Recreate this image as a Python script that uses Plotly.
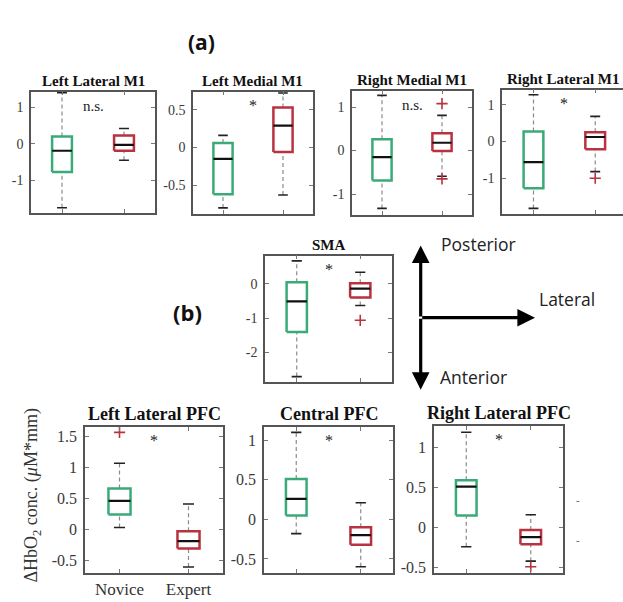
import plotly.graph_objects as go

W, H = 623, 602

# ---------------- data ----------------
regions = ["Left Lateral M1", "Left Medial M1", "Right Medial M1", "Right Lateral M1",
           "SMA", "Left Lateral PFC", "Central PFC", "Right Lateral PFC"]
group_labels = ["Novice", "Expert"]

novice_low  = [-1.75, -0.80, -1.33, -1.82, -2.70, 0.03, -0.18, -0.24]
novice_q1   = [-0.77, -0.62, -0.69, -1.27, -1.40, 0.24, 0.05, 0.15]
novice_med  = [-0.19, -0.15, -0.15, -0.56, -0.51, 0.46, 0.26, 0.51]
novice_q3   = [0.20, 0.06, 0.26, 0.27, 0.05, 0.66, 0.51, 0.59]
novice_high = [1.40, 0.16, 1.27, 1.27, 0.67, 1.07, 1.10, 1.19]
novice_out  = [[], [], [], [], [], [1.57], [], []]

expert_low  = [-0.45, -0.63, -0.59, -0.82, -0.63, -0.61, -0.60, -0.42]
expert_q1   = [-0.19, -0.06, -0.01, -0.21, -0.40, -0.31, -0.32, -0.21]
expert_med  = [-0.03, 0.29, 0.18, 0.12, -0.14, -0.19, -0.20, -0.12]
expert_q3   = [0.23, 0.53, 0.40, 0.25, 0.02, -0.03, -0.10, -0.03]
expert_high = [0.42, 0.72, 0.81, 0.68, 0.34, 0.41, 0.21, 0.16]
expert_out  = [[], [], [1.08, -0.65], [-1.0], [-1.06], [], [], [-0.49]]

sig_marks = ["n.s.", "*", "n.s.", "*", "*", "*", "*", "*"]

y_ticks = [[-1, 0, 1], [-0.5, 0, 0.5], [-1, 0, 1], [-2, -1, 0, 1], [-2, -1, 0],
           [-0.5, 0, 0.5, 1, 1.5], [-0.5, 0, 0.5, 1], [-0.5, 0, 0.5, 1]]
y_tick_text = [["-1", "0", "1"], ["-0.5", "0", "0.5"], ["-1", "0", "1"], ["-2", "-1", "0", "1"],
               ["-2", "-1", "0"], ["-0.5", "0", "0.5", "1", "1.5"], ["-0.5", "0", "0.5", "1"],
               ["-0.5", "0", "0.5", "1"]]
y_ranges = [[-1.89, 1.43], [-0.88, 0.74], [-1.48, 1.38], [-1.97, 1.41], [-2.86, 0.82],
            [-0.71, 1.66], [-0.68, 1.17], [-0.57, 1.27]]

# ---------------- layout geometry (pixels: left, top, right, bottom) ----------------
frames = [(31, 92, 155, 214), (193, 92, 313, 215), (352, 91, 472, 216), (502, 90, 623, 215),
          (265, 257, 392, 384), (85, 429, 223, 576), (264, 429, 393, 576), (434, 428, 563, 576)]
x_ranges = [[0.5, 2.5], [0.5, 2.5], [0.5, 2.5], [0.49, 2.45],
            [0.5, 2.5], [0.5, 2.5], [0.5, 2.5], [0.5, 2.5]]

GREEN = "#3aaa78"
RED = "#b8323f"
FRAME = "#555555"
SERIF = "Liberation Serif"
SANS = "Open Sans"

def px(x):
    return x / W

def py(y):
    return 1 - y / H

fig = go.Figure()
BW = 0.16   # half box width
CW = 0.08   # half cap width

for i in range(len(regions)):
    n = i + 1
    xa = "x" if n == 1 else f"x{n}"
    ya = "y" if n == 1 else f"y{n}"
    groups = [
        (1, novice_low[i], novice_q1[i], novice_med[i], novice_q3[i], novice_high[i], novice_out[i], GREEN),
        (2, expert_low[i], expert_q1[i], expert_med[i], expert_q3[i], expert_high[i], expert_out[i], RED),
    ]
    for g, lo, q1, md, q3, hi, outs, col in groups:
        fig.add_trace(go.Scatter(x=[g, g, None, g, g], y=[lo, q1, None, q3, hi], mode="lines",
                                 line=dict(color="#8a8a8a", width=1.2, dash="4px,3px"),
                                 xaxis=xa, yaxis=ya, showlegend=False, hoverinfo="skip"))
        fig.add_trace(go.Scatter(x=[g - CW, g + CW, None, g - CW, g + CW], y=[lo, lo, None, hi, hi],
                                 mode="lines", line=dict(color="#222222", width=1.6),
                                 xaxis=xa, yaxis=ya, showlegend=False, hoverinfo="skip"))
        fig.add_trace(go.Scatter(x=[g - BW, g + BW, g + BW, g - BW, g - BW], y=[q1, q1, q3, q3, q1],
                                 mode="lines", line=dict(color=col, width=2.5),
                                 xaxis=xa, yaxis=ya, showlegend=False, hoverinfo="skip"))
        fig.add_trace(go.Scatter(x=[g - BW, g + BW], y=[md, md], mode="lines",
                                 line=dict(color="#111111", width=2.2),
                                 xaxis=xa, yaxis=ya, showlegend=False, hoverinfo="skip"))
        if outs:
            fig.add_trace(go.Scatter(x=[g] * len(outs), y=outs, mode="markers",
                                     marker=dict(symbol="cross-thin", size=8, color=RED,
                                                 line=dict(color=RED, width=1.6)),
                                     xaxis=xa, yaxis=ya, showlegend=False, hoverinfo="skip"))

layout = dict(width=W, height=H, margin=dict(l=0, r=0, t=0, b=0),
              paper_bgcolor="white", plot_bgcolor="white", showlegend=False)

annotations = []
for i in range(len(regions)):
    n = i + 1
    l, t, r, b = frames[i]
    bottom = i >= 5
    tick_size = 16 if bottom else 14
    xkey = "xaxis" if n == 1 else f"xaxis{n}"
    ykey = "yaxis" if n == 1 else f"yaxis{n}"
    xa = "x" if n == 1 else f"x{n}"
    ya = "y" if n == 1 else f"y{n}"
    layout[xkey] = dict(domain=[px(l), px(r)], range=x_ranges[i], anchor=ya,
                        showline=True, linecolor=FRAME, linewidth=1.5, mirror="ticks",
                        ticks="inside", ticklen=4, tickcolor="#777777", tickwidth=1,
                        tickvals=[1, 2],
                        ticktext=group_labels if i == 5 else ["", ""],
                        tickfont=dict(family=SERIF, size=17, color="#333333"),
                        showgrid=False, zeroline=False, fixedrange=True)
    layout[ykey] = dict(domain=[py(b), py(t)], range=y_ranges[i], anchor=xa,
                        showline=True, linecolor=FRAME, linewidth=1.5,
                        mirror=False if i == 3 else "ticks",
                        ticks="inside", ticklen=4, tickcolor="#777777", tickwidth=1,
                        tickvals=y_ticks[i], ticktext=y_tick_text[i],
                        tickfont=dict(family=SERIF, size=tick_size, color="#3a3a3a"),
                        ticklabelstandoff=3,
                        showgrid=False, zeroline=False, fixedrange=True)
    title_size = 18 if bottom else 15
    annotations.append(dict(text=f"<b>{regions[i]}</b>", xref="paper", yref="paper",
                            x=px((l + r) / 2), y=py(t), xanchor="center", yanchor="bottom", yshift=1,
                            showarrow=False, font=dict(family=SERIF, size=title_size, color="#111111")))
    sig = sig_marks[i]
    annotations.append(dict(text=sig, xref=xa, yref=f"{ya} domain", x=1.5, y=1,
                            xanchor="center", yanchor="top", yshift=-4 if sig != "*" else -3,
                            showarrow=False,
                            font=dict(family=SERIF, size=15 if sig != "*" else 16, color="#222222")))

annotations.append(dict(text="ΔHbO<sub>2</sub> conc. (<i>μ</i>M*mm)", xref="paper", yref="paper",
                        x=px(33), y=py(498), textangle=-90, showarrow=False,
                        xanchor="center", yanchor="middle",
                        font=dict(family=SERIF, size=18, color="#333333")))

annotations.append(dict(text="<b>(a)</b>", xref="paper", yref="paper", x=px(201), y=py(42),
                        xanchor="center", yanchor="middle",
                        showarrow=False, font=dict(family=SANS, size=21, color="#111111")))
annotations.append(dict(text="<b>(b)</b>", xref="paper", yref="paper", x=px(187), y=py(314),
                        xanchor="center", yanchor="middle",
                        showarrow=False, font=dict(family=SANS, size=22, color="#111111")))

cx, cy = 420.7, 319.3
for tip_x, tip_y in [(420.7, 246.7), (420.7, 391.7), (535, 319.3)]:
    annotations.append(dict(text="", xref="paper", yref="paper", x=px(tip_x), y=py(tip_y),
                            ax=cx - tip_x, ay=cy - tip_y, showarrow=True,
                            arrowhead=2, arrowsize=1.1, arrowwidth=3.2, arrowcolor="#000000",
                            standoff=0, startstandoff=0))
for txt, x, y in [("Posterior", 478, 245), ("Lateral", 567, 300), ("Anterior", 473, 379)]:
    annotations.append(dict(text=txt, xref="paper", yref="paper", x=px(x), y=py(y),
                            xanchor="center", yanchor="middle",
                            showarrow=False, font=dict(family=SANS, size=17.5, color="#222222")))

for y in [503, 543]:
    annotations.append(dict(text="-", xref="paper", yref="paper", x=px(578), y=py(y),
                            xanchor="center", yanchor="middle",
                            showarrow=False, font=dict(family=SERIF, size=11, color="#555555")))

layout["annotations"] = annotations
fig.update_layout(**layout)
fig.write_html("out.html", config={"displayModeBar": False},
               post_script="document.body.style.margin='0';document.body.style.padding='0';")
